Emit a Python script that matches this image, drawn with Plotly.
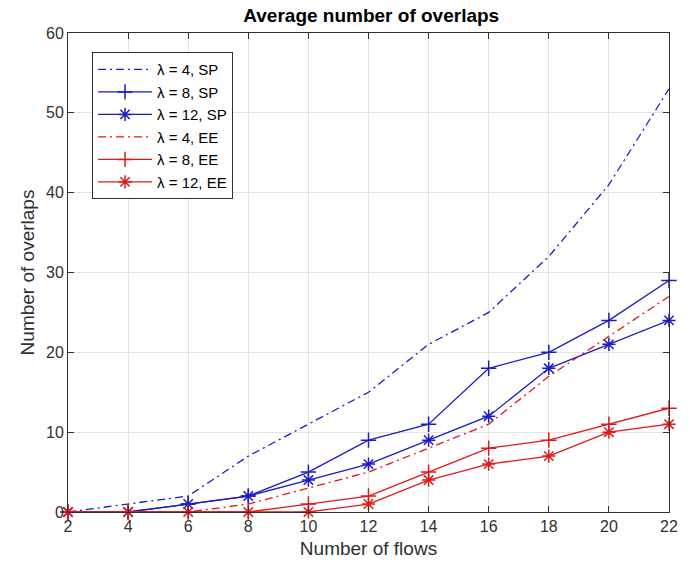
import plotly.graph_objects as go

# Number of flows on the x axis
flows = [2, 4, 6, 8, 10, 12, 14, 16, 18, 20, 22]

# Average number of overlaps per routing scheme and lambda
sp_l4 = [0, 1, 2, 7, 11, 15, 21, 25, 32, 41, 53]
sp_l8 = [0, 0, 1, 2, 5, 9, 11, 18, 20, 24, 29]
sp_l12 = [0, 0, 1, 2, 4, 6, 9, 12, 18, 21, 24]
ee_l4 = [0, 0, 0, 1, 3, 5, 8, 11, 17, 22, 27]
ee_l8 = [0, 0, 0, 0, 1, 2, 5, 8, 9, 11, 13]
ee_l12 = [0, 0, 0, 0, 0, 1, 4, 6, 7, 10, 11]

series_names = ["λ = 4, SP", "λ = 8, SP", "λ = 12, SP",
                "λ = 4, EE", "λ = 8, EE", "λ = 12, EE"]

BLUE = "#1c1cc0"
RED = "#de1a1a"
FONT = "Liberation Sans, Arial, sans-serif"
INK = "#303030"

styles = [
    dict(color=BLUE, dash="8px,4px,2px,4px", symbol=None),
    dict(color=BLUE, dash="solid", symbol="cross-thin-open"),
    dict(color=BLUE, dash="solid", symbol="asterisk-open"),
    dict(color=RED, dash="8px,4px,2px,4px", symbol=None),
    dict(color=RED, dash="solid", symbol="cross-thin-open"),
    dict(color=RED, dash="solid", symbol="asterisk-open"),
]

fig = go.Figure()
for name, ys, st in zip(series_names,
                        [sp_l4, sp_l8, sp_l12, ee_l4, ee_l8, ee_l12],
                        styles):
    mode = "lines" if st["symbol"] is None else "lines+markers"
    marker = dict(symbol=st["symbol"] or "circle", size=11,
                  color=st["color"], line=dict(color=st["color"], width=1.5))
    fig.add_trace(go.Scatter(
        x=flows, y=ys, name=name, mode=mode,
        line=dict(color=st["color"], width=1.3, dash=st["dash"]),
        marker=marker, cliponaxis=False,
    ))

axis_common = dict(
    showline=True, linecolor=INK, linewidth=1, mirror="ticks",
    ticks="inside", ticklen=6, tickcolor=INK, tickwidth=1,
    showgrid=True, gridcolor="#e3e3e3", gridwidth=1, zeroline=False,
    tickfont=dict(family=FONT, size=16, color=INK),
)

fig.update_layout(
    width=690, height=575,
    margin=dict(l=68, r=14, t=33, b=63),
    paper_bgcolor="white", plot_bgcolor="white",
    title=dict(text="<b>Average number of overlaps</b>", x=0.538, xanchor="center",
               y=0.974, yanchor="middle",
               font=dict(family=FONT, size=19, color="black")),
    xaxis=dict(range=[2, 22], tickvals=flows, **axis_common,
               title=dict(text="Number of flows", standoff=7,
                          font=dict(family=FONT, size=19, color=INK))),
    yaxis=dict(range=[0, 60], tickvals=[0, 10, 20, 30, 40, 50, 60], **axis_common,
               title=dict(text="Number of overlaps", standoff=6,
                          font=dict(family=FONT, size=19, color=INK))),
    legend=dict(x=0.04, y=0.96, xanchor="left", yanchor="top",
                bgcolor="white", bordercolor=INK, borderwidth=1,
                font=dict(family=FONT, size=15, color="black"),
                tracegroupgap=0, itemwidth=54),
    showlegend=True,
)

fig.write_html("out.html")
